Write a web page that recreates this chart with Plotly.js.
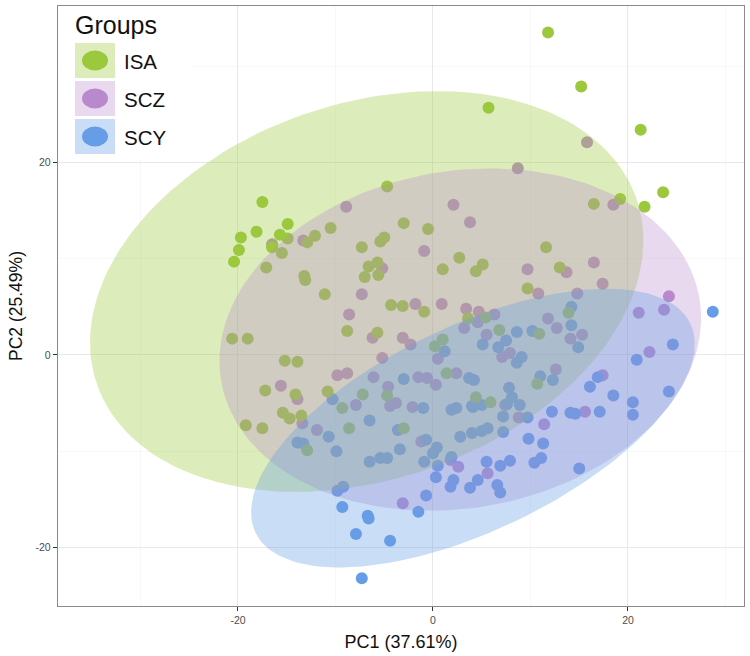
<!DOCTYPE html>
<html><head><meta charset="utf-8">
<script src="https://cdn.plot.ly/plotly-3.0.1.min.js"></script>
<style>html,body{margin:0;padding:0;background:#fff;}#chart{width:750px;height:656px;}</style>
</head><body><div id="chart"></div>
<script>
// ---- data ----
const groups = ['ISA', 'SCZ', 'SCY'];
const isaX = [11.8,15.2,5.7,21.3,-4.7,23.6,21.7,19.2,16.5,-3.0,-0.5,11.6,2.7,1.0,4.4,5.1,13.0,9.7,-3.1,-0.9,3.6,5.4,6.8,10.9,13.9,0.2,1.0,-17.5,-14.9,-18.1,-19.7,-15.7,-14.9,-19.9,-16.5,-20.4,-15.5,-17.1,-12.9,-12.1,-10.5,-7.3,-5.4,-5.0,-6.6,-5.7,-7.0,-5.6,-13.2,-13.1,-11.1,-4.3,-8.8,-5.7,-20.6,-19.0,-15.2,-13.9,-17.2,-14.1,-10.8,-9.3,-7.2,-4.7,1.4,-15.4,-14.7,-13.5,-19.2,-17.5,-8.6,-3.0,-12.9,4.4,10.7,5.9];
const isaY = [33.5,27.9,25.7,23.4,17.5,16.9,15.4,16.2,15.7,13.7,13.1,11.2,10.1,8.9,8.7,9.4,9.1,6.9,5.1,4.5,3.8,3.9,2.6,2.2,4.4,0.9,1.6,15.9,13.6,12.8,12.2,12.5,12.1,10.9,11.2,9.7,10.6,9.1,11.7,12.4,13.2,11.2,11.8,12.2,9.2,9.6,8.1,8.3,8.2,7.8,6.3,5.2,2.5,2.3,1.7,1.7,-0.6,-0.7,-3.7,-4.1,-3.8,-5.5,-4.1,-4.2,-1.9,-6.0,-6.6,-6.3,-7.3,-7.6,-7.6,-7.6,-9.9,-4.4,-3.0,-4.9];
const sczX = [15.8,8.7,-8.9,2.1,3.8,18.5,-0.9,-16.5,-13.3,-5.2,9.7,13.7,16.5,17.4,10.8,14.8,-7.3,-1.8,0.9,3.4,4.7,6.3,3.2,4.6,11.8,12.7,15.3,14.1,5.5,-8.6,-6.2,-3.1,-2.3,24.2,21.1,23.7,22.2,-5.2,0.5,-9.8,-8.8,-6.1,-1.5,-0.6,0.3,2.4,-15.6,-13.9,-4.6,-4.4,-3.8,-2.1,-7.9,-13.4,-11.9,-1.2,1.8,2.6,-3.1,7.9,7.1,12.6,17.4,7.4,8.8,15.6,11.4,5.6];
const sczY = [22.1,19.4,15.4,15.6,13.8,15.6,10.8,11.5,11.9,9.0,8.9,8.6,9.6,7.4,6.4,6.4,6.3,5.3,5.3,4.8,4.5,4.2,2.8,3.4,3.8,2.8,2.1,1.7,2.1,4.2,1.8,1.8,1.1,6.1,4.4,4.7,0.3,-0.3,-0.4,-2.1,-1.9,-2.3,-2.3,-2.4,-3.1,-1.9,-3.2,-4.6,-3.3,-5.3,-5.0,-5.4,-5.2,-7.1,-7.8,-9.0,-10.9,-11.6,-15.4,0.2,-0.2,-1.5,-2.1,-5.2,-6.5,-5.9,-7.2,-12.3];
const scyX = [28.7,24.6,1.2,-10.3,-3.0,-1.0,-6.5,-3.6,1.9,2.4,-13.9,-13.3,-10.7,-9.9,-6.5,-5.4,-4.7,-3.4,-0.7,0.4,0.0,-0.9,0.5,2.8,0.3,2.1,1.8,-9.8,-9.2,-9.3,-6.7,-6.6,-7.9,-4.4,-7.3,-1.5,-0.7,3.8,14.2,8.6,10.2,14.2,14.9,5.1,7.5,6.7,3.7,4.2,4.1,4.0,1.9,9.1,8.6,20.9,11.0,12.3,5.0,4.0,7.8,8.1,8.9,7.6,7.2,9.7,12.2,14.1,14.6,17.1,16.1,16.9,18.5,20.5,20.5,5.0,5.6,7.2,9.8,11.3,11.1,10.4,15.0,7.9,6.9,5.5,4.6,6.6,6.9,24.2];
const scyY = [4.5,1.1,0.4,-4.6,-2.5,-5.5,-6.8,-7.8,-5.7,-5.5,-9.1,-9.2,-8.5,-10.0,-11.1,-10.7,-10.7,-9.8,-8.8,-9.6,-10.2,-11.1,-11.5,-8.5,-12.7,-13.0,-13.7,-14.1,-13.7,-15.8,-16.7,-17.0,-18.6,-19.3,-23.2,-16.3,-14.6,-13.8,5.0,2.4,2.5,3.1,0.8,1.1,1.5,0.8,-2.4,-2.6,-5.4,-8.1,-10.6,-0.2,-0.8,-0.5,-2.2,-2.6,-5.2,-5.3,-3.4,-4.4,-5.2,-5.1,-6.4,-6.5,-5.9,-6.0,-6.1,-5.9,-3.3,-2.3,-4.2,-4.9,-6.2,-7.9,-7.6,-8.0,-8.7,-9.2,-10.7,-11.2,-11.8,-11.0,-11.5,-11.1,-13.0,-13.5,-14.3,-3.8];
// confidence ellipses (centre, semi-axes, rotation in degrees)
const ellCx = [-6.8, 2.8, 4.1];
const ellCy = [6.6, 1.6, -7.6];
const ellA = [29.3, 24.9, 24.8];
const ellB = [19.5, 17.5, 10.6];
const ellAngle = [19.5, 10.3, 26.1];
const tickVals = [-20, 0, 20];
const tickText = ['-20', '0', '20'];
const xTitle = 'PC1 (37.61%)';
const yTitle = 'PC2 (25.49%)';
const legendTitle = 'Groups';

// ---- styling ----
const pointColors = ['rgb(155,200,60)', 'rgb(185,137,205)', 'rgb(102,157,230)'];
const fillColors = ['rgba(155,200,60,0.35)', 'rgba(185,137,205,0.32)', 'rgba(102,157,230,0.35)'];
const FONT = '"Liberation Sans", Arial, sans-serif';

const ptsX = [isaX, sczX, scyX];
const ptsY = [isaY, sczY, scyY];

function ellipse(i) {
  const n = 181, th = ellAngle[i] * Math.PI / 180;
  const xs = [], ys = [];
  for (let k = 0; k < n; k++) {
    const t = 2 * Math.PI * k / (n - 1);
    const u = ellA[i] * Math.cos(t), v = ellB[i] * Math.sin(t);
    xs.push(ellCx[i] + u * Math.cos(th) - v * Math.sin(th));
    ys.push(ellCy[i] + u * Math.sin(th) + v * Math.cos(th));
  }
  return {xs, ys};
}

const traces = [];
[1, 2, 0].forEach(i => {
  traces.push({type: 'scatter', mode: 'markers', name: groups[i], x: ptsX[i], y: ptsY[i],
    marker: {size: 12, color: pointColors[i], line: {width: 0}}, hoverinfo: 'skip', showlegend: false});
});
[0, 1, 2].forEach(i => {
  const e = ellipse(i);
  traces.push({type: 'scatter', mode: 'lines', name: groups[i] + ' ellipse', x: e.xs, y: e.ys,
    fill: 'toself', fillcolor: fillColors[i], line: {width: 0, color: 'rgba(0,0,0,0)'},
    hoverinfo: 'skip', showlegend: false});
});

// pixel helpers for the in-panel legend (plot area: left 58, top 6, 686 x 600)
const L = 58, T = 6, W = 686, H = 600;
const px = v => (v - L) / W;
const py = v => (T + H - v) / H;

const shapes = [{type: 'rect', xref: 'paper', yref: 'paper', x0: px(59.5), x1: px(190), y0: py(7), y1: py(160),
  fillcolor: '#ffffff', line: {width: 0}, layer: 'above'}];
const annotations = [{xref: 'paper', yref: 'paper', x: px(73), y: py(25), xanchor: 'left', yanchor: 'middle',
  text: legendTitle, showarrow: false, font: {family: FONT, size: 25, color: '#111'}}];
const keyTop = [43, 81, 119];
groups.forEach((g, i) => {
  const t = keyTop[i], b = t + 35, c = (t + b) / 2;
  shapes.push({type: 'rect', xref: 'paper', yref: 'paper', x0: px(75), x1: px(115), y0: py(b), y1: py(t),
    fillcolor: fillColors[i], line: {width: 0}, layer: 'above'});
  shapes.push({type: 'circle', xref: 'paper', yref: 'paper', x0: px(82), x1: px(108), y0: py(c + 10), y1: py(c - 10),
    fillcolor: pointColors[i], line: {width: 0}, layer: 'above'});
  annotations.push({xref: 'paper', yref: 'paper', x: px(122), y: py(c + 1), xanchor: 'left', yanchor: 'middle',
    text: g, showarrow: false, font: {family: FONT, size: 20.5, color: '#111'}});
});

const axisBase = {
  tickmode: 'array', tickvals: tickVals, ticktext: tickText,
  ticks: 'outside', ticklen: 4, tickwidth: 1, tickcolor: '#333',
  tickfont: {family: FONT, size: 10.5, color: '#4d4d4d'},
  showgrid: true, gridcolor: '#e8e8e8', gridwidth: 1,
  minor: {tickmode: 'array', tickvals: [-30, -10, 10, 30], showgrid: true, gridcolor: '#f3f3f3', gridwidth: 0.6, ticklen: 0},
  zeroline: false, showline: true, mirror: true, linecolor: '#8a8a8a', linewidth: 1.3,
  automargin: false
};

const layout = {
  width: 750, height: 656,
  margin: {l: L, r: 750 - L - W, t: T, b: 656 - T - H},
  paper_bgcolor: '#ffffff', plot_bgcolor: '#ffffff',
  showlegend: false,
  xaxis: Object.assign({}, axisBase, {range: [-38.46, 31.9],
    title: {text: xTitle, font: {family: FONT, size: 18, color: '#111'}, standoff: 10}}),
  yaxis: Object.assign({}, axisBase, {range: [-26.08, 36.26],
    title: {text: yTitle, font: {family: FONT, size: 17.5, color: '#111'}, standoff: 8}}),
  shapes: shapes,
  annotations: annotations
};

Plotly.newPlot('chart', traces, layout, {displayModeBar: false, staticPlot: true});
</script>
</body></html>
